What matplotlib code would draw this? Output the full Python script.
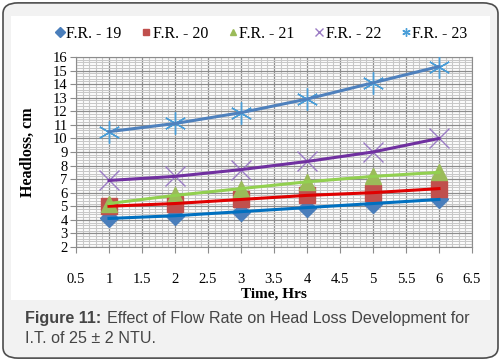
import matplotlib.pyplot as plt
from matplotlib.patches import FancyBboxPatch, Rectangle
from matplotlib.lines import Line2D
from matplotlib.ticker import MultipleLocator, FormatStrFormatter

hours = [1, 2, 3, 4, 5, 6]
fr19 = [4.1, 4.3, 4.6, 4.9, 5.2, 5.5]
fr20 = [5.0, 5.2, 5.5, 5.8, 6.0, 6.3]
fr21 = [5.2, 5.8, 6.3, 6.8, 7.2, 7.5]
fr22 = [6.9, 7.2, 7.7, 8.3, 9.0, 10.0]
fr23 = [10.5, 11.1, 11.9, 12.9, 14.1, 15.3]
labels = ['F.R. - 19', 'F.R. - 20', 'F.R. - 21', 'F.R. - 22', 'F.R. - 23']

series = [
    (fr19, 'D', 9, '#4a7ebb', '#0070c0'),
    (fr20, 's', 11, '#c0504d', '#e00000'),
    (fr21, '^', 11, '#9bbb59', '#92d050'),
    (fr22, 'x', 14, '#9b7cc4', '#7030a0'),
    (fr23, (6, 2, 0), 16, '#4a9ed8', '#4f81bd'),
]

fig = plt.figure(figsize=(5.01, 3.61), dpi=100)
fig.patch.set_facecolor('white')

# outer caption box and white chart area
fig.patches.append(FancyBboxPatch((0.006, 0.008), 0.988, 0.984, boxstyle='round,pad=0,rounding_size=0.03',
                                  transform=fig.transFigure, facecolor='#f2f2f2', edgecolor='#4d4d4d',
                                  linewidth=1.2, zorder=-2))
fig.patches.append(Rectangle((0.022, 0.168), 0.956, 0.788, transform=fig.transFigure,
                             facecolor='white', edgecolor='none', zorder=-1))

ax = fig.add_axes([0.1517, 0.316, 0.7904, 0.526])
ax.set_zorder(1)
ax.set_xlim(0.5, 6.5)
ax.set_ylim(2, 16)
ax.xaxis.set_major_locator(MultipleLocator(0.5))
ax.yaxis.set_major_locator(MultipleLocator(1))
ax.xaxis.set_minor_locator(MultipleLocator(0.1))
ax.yaxis.set_minor_locator(MultipleLocator(0.2))
ax.xaxis.set_major_formatter(FormatStrFormatter('%g'))
ax.grid(which='minor', color='#c8c8c8', linewidth=0.8)
ax.grid(which='major', color='#8c8c8c', linewidth=0.9)
ax.set_axisbelow(True)
for s in ax.spines.values():
    s.set_color('#8c8c8c')
ax.tick_params(which='major', length=4, color='#8c8c8c', labelsize=10.5, pad=2)
ax.tick_params(axis='x', pad=15)
ax.tick_params(which='minor', length=0)
for t in ax.get_xticklabels() + ax.get_yticklabels():
    t.set_fontfamily('Liberation Serif')

handles = []
for (vals, m, ms, mc, lc), lab in zip(series, labels):
    if m == 'x' or m == (6, 2, 0):
        ax.plot(hours, vals, linestyle='none', marker=m, markersize=ms, markeredgecolor=mc,
                markeredgewidth=1.0, zorder=3)
        h = Line2D([], [], linestyle='none', marker=m, markersize=6, markeredgecolor=mc, markeredgewidth=1.0)
    else:
        ax.plot(hours, vals, linestyle='none', marker=m, markersize=ms, markerfacecolor=mc,
                markeredgecolor=mc, zorder=3)
        h = Line2D([], [], linestyle='none', marker=m, markersize=5, markerfacecolor=mc, markeredgecolor=mc)
    ax.plot(hours, vals, color=lc, linewidth=2.2, zorder=4)
    handles.append(h)

ax.set_xlabel('Time, Hrs', fontfamily='Liberation Serif', fontweight='bold', fontsize=11, labelpad=1)
ax.set_ylabel('Headloss, cm', fontfamily='Liberation Serif', fontweight='bold', fontsize=11.5, labelpad=12)

fig.legend(handles, labels, loc='center', bbox_to_anchor=(0.522, 0.907), ncol=5, frameon=False,
           prop={'family': 'Liberation Serif', 'size': 11.5}, handlelength=0.5, handletextpad=0.15,
           columnspacing=1.3)

fig.text(0.05, 0.118, 'Figure 11:', fontfamily='Liberation Sans', fontweight='bold', fontsize=11.6,
         color='#454545', va='center')
fig.text(0.214, 0.118, 'Effect of Flow Rate on Head Loss Development for', fontfamily='Liberation Sans',
         fontsize=11.6, color='#454545', va='center')
fig.text(0.05, 0.062, 'I.T. of 25 \u00b1 2 NTU.', fontfamily='Liberation Sans', fontsize=11.6,
         color='#454545', va='center')

fig.savefig('out.png', dpi=100)
